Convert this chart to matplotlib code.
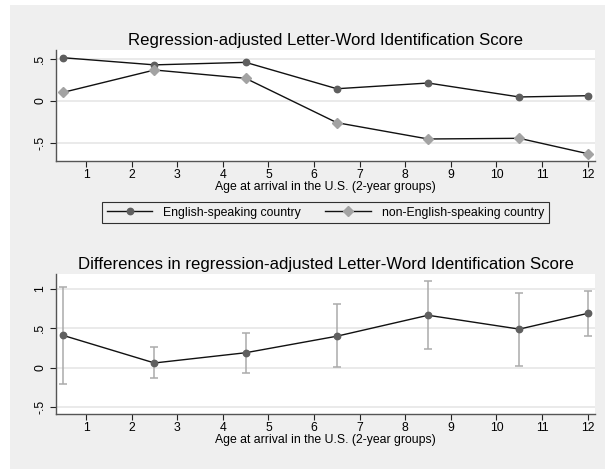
import matplotlib
matplotlib.use("Agg")
import matplotlib.pyplot as plt
import numpy as np

plt.rcParams['font.family'] = ['Liberation Sans', 'DejaVu Sans']

# age-at-arrival groups (midpoints of 2-year bins, last one capped at 12)
age = [0.5, 2.5, 4.5, 6.5, 8.5, 10.5, 12]

# regression-adjusted scores
eng_score = [0.515, 0.43, 0.46, 0.146, 0.214, 0.048, 0.063]
noneng_score = [0.103, 0.369, 0.27, -0.258, -0.452, -0.444, -0.627]

# difference (English minus non-English) with 95% CI
diff = [0.41, 0.06, 0.19, 0.40, 0.666, 0.49, 0.69]
diff_lo = [-0.21, -0.135, -0.064, 0.005, 0.234, 0.025, 0.40]
diff_hi = [1.03, 0.26, 0.437, 0.813, 1.10, 0.953, 0.978]

x_ticks = list(range(1, 13))
top_yticks = [-0.5, 0, 0.5]
top_ylabels = ['-.5', '0', '.5']
bot_yticks = [-0.5, 0, 0.5, 1]
bot_ylabels = ['-.5', '0', '.5', '1']

BG = '#efefef'
GRID = '#e6e6e6'
AXIS = '#555555'
SMALL = 8.8
W, H = 605, 469

fig = plt.figure(figsize=(W / 100, H / 100), dpi=100, facecolor='white')
# gray graph region inside a thin white margin
fig.patches.append(plt.Rectangle((10 / W, 0), 1 - 10 / W, 1 - 5 / H,
                                 transform=fig.transFigure, facecolor=BG,
                                 edgecolor='none', zorder=-10))


def px_axes(left, top, right, bottom):
    return fig.add_axes([left / W, 1 - bottom / H, (right - left) / W, (bottom - top) / H])


def style_axes(ax, yticks, ylabels, title):
    ax.set_facecolor('white')
    ax.set_xlim(0.342, 12.16)
    ax.set_xticks(x_ticks)
    ax.set_xticklabels([str(t) for t in x_ticks])
    ax.set_yticks(yticks)
    ax.set_yticklabels(ylabels, rotation=90, va='center')
    ax.grid(axis='y', color=GRID, linewidth=1.2)
    ax.set_axisbelow(True)
    for s in ['top', 'right']:
        ax.spines[s].set_visible(False)
    for s in ['left', 'bottom']:
        ax.spines[s].set_color(AXIS)
        ax.spines[s].set_linewidth(1.0)
    ax.tick_params(axis='both', direction='out', length=4, width=0.8, color='#222222',
                   labelsize=SMALL, pad=1.5)
    ax.tick_params(axis='y', pad=3)
    ax.set_xlabel('Age at arrival in the U.S. (2-year groups)', fontsize=SMALL, labelpad=0)
    ax.set_title(title, fontsize=12.1, pad=3.5)


# top panel: scores by country type
ax1 = px_axes(56, 50, 595, 161)
ax1.plot(age, eng_score, color='#111111', linewidth=1.0, marker='o', markersize=4.6,
         markerfacecolor='#5f5f5f', markeredgecolor='#5f5f5f',
         label='English-speaking country')
ax1.plot(age, noneng_score, color='#111111', linewidth=1.0, marker='D', markersize=5,
         markerfacecolor='#a3a3a3', markeredgecolor='#a3a3a3',
         label='non-English-speaking country')
ax1.set_ylim(-0.714, 0.607)
style_axes(ax1, top_yticks, top_ylabels,
           'Regression-adjusted Letter-Word Identification Score')

leg = fig.legend(loc='center', bbox_to_anchor=(325.5 / W, 1 - 212.5 / H), ncol=2,
                 fontsize=SMALL, frameon=True, fancybox=False, handlelength=3.7,
                 handletextpad=0.9, columnspacing=2.0, borderpad=0.4)
leg.get_frame().set_edgecolor('black')
leg.get_frame().set_facecolor(BG)
leg.get_frame().set_linewidth(0.8)

# bottom panel: difference with confidence interval
ax2 = px_axes(56, 274, 595, 414)
err = [np.array(diff) - np.array(diff_lo), np.array(diff_hi) - np.array(diff)]
ax2.errorbar(age, diff, yerr=err, fmt='none', ecolor='#ababab', elinewidth=1.1,
             capsize=2.6, capthick=1.1, zorder=2)
ax2.plot(age, diff, color='#111111', linewidth=1.0, marker='o', markersize=4.6,
         markerfacecolor='#5f5f5f', markeredgecolor='#5f5f5f', zorder=3)
ax2.set_ylim(-0.588, 1.19)
style_axes(ax2, bot_yticks, bot_ylabels,
           'Differences in regression-adjusted Letter-Word Identification Score')

fig.savefig('out.png', dpi=100, facecolor='white')
